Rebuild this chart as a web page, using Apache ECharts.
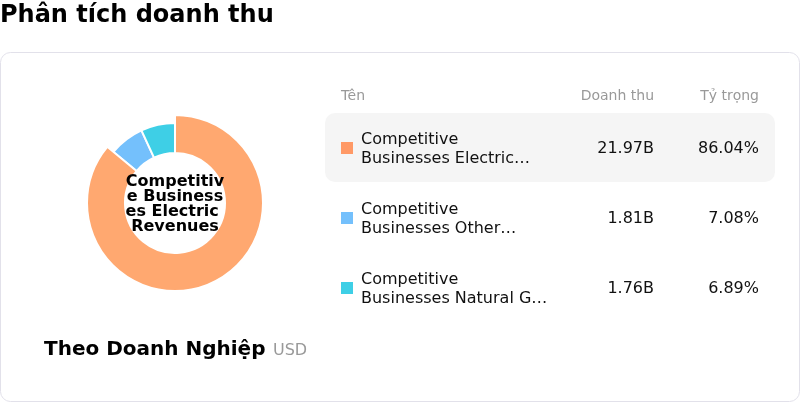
<!DOCTYPE html>
<html>
<head>
<meta charset="utf-8">
<script src="https://cdn.jsdelivr.net/npm/echarts@6/dist/echarts.min.js"></script>
<style>
html,body{margin:0;padding:0;background:#fff;}
#c{width:800px;height:402px;}
</style>
</head>
<body>
<div id="c"></div>
<script>
var titleText = 'Phân tích doanh thu';
var subTitle = 'Theo Doanh Nghiệp';
var unitText = 'USD';
var headers = ['Tên', 'Doanh thu', 'Tỷ trọng'];
var names = ['Competitive Businesses Electric Revenues', 'Competitive Businesses Other Revenues', 'Competitive Businesses Natural Gas Revenues'];
var values = [21.97, 1.81, 1.76];
var valueLabels = ['21.97B', '1.81B', '1.76B'];
var shares = [86.04, 7.08, 6.89];
var colors = ['#FF9966', '#74C0FC', '#3ECFE6'];

var FONT = '"DejaVu Sans", sans-serif';
var ctx = document.createElement('canvas').getContext('2d');
ctx.font = '16px ' + FONT;
function w(s) { return ctx.measureText(s).width; }
function clamp2(text, width) {
  var words = text.split(' ');
  var lines = [], cur = '';
  words.forEach(function (wd) {
    var t = cur ? cur + ' ' + wd : wd;
    if (cur && w(t) > width) { lines.push(cur); cur = wd; } else { cur = t; }
  });
  if (cur) lines.push(cur);
  if (lines.length <= 2) return lines.join('\n');
  var s = lines[1];
  while (s.length && w(s + '…') > width) s = s.slice(0, -1);
  return lines[0] + '\n' + s.replace(/\s+$/, '') + '…';
}

var chart = echarts.init(document.getElementById('c'), null, {renderer: 'canvas'});
var graphics = [
  {type: 'rect', shape: {x: 0.5, y: 52.5, width: 799, height: 349, r: 10}, style: {fill: '#fff', stroke: '#E2E1EA', lineWidth: 1}, z: -10},
  {type: 'text', x: 0, y: 16, style: {text: titleText, font: 'bold 24px ' + FONT, fill: '#000', verticalAlign: 'middle'}},
  {type: 'text', x: 44, y: 350, style: {text: subTitle, font: 'bold 20px ' + FONT, fill: '#000', verticalAlign: 'middle'}},
  {type: 'text', x: 273, y: 351, style: {text: unitText, font: '16px ' + FONT, fill: '#999', verticalAlign: 'middle'}},
  {type: 'text', x: 341, y: 96, style: {text: headers[0], font: '14px ' + FONT, fill: '#999', verticalAlign: 'middle'}},
  {type: 'text', x: 654, y: 96, style: {text: headers[1], font: '14px ' + FONT, fill: '#999', align: 'right', verticalAlign: 'middle'}},
  {type: 'text', x: 759, y: 96, style: {text: headers[2], font: '14px ' + FONT, fill: '#999', align: 'right', verticalAlign: 'middle'}},
  {type: 'rect', shape: {x: 325, y: 113, width: 450, height: 69, r: 10}, style: {fill: '#F5F5F5'}, z: -5},
  {type: 'text', x: 175, y: 204, z: 10, style: {text: names[0], font: 'bold 16px ' + FONT, lineHeight: 15, width: 100, overflow: 'breakAll', fill: '#000', align: 'center', verticalAlign: 'middle'}}
];
for (var k = 0; k < names.length; k++) {
  var cy = 148 + k * 70;
  graphics.push({type: 'rect', shape: {x: 341, y: cy - 6, width: 12, height: 12}, style: {fill: colors[k]}});
  graphics.push({type: 'text', x: 361, y: cy + 1, style: {text: clamp2(names[k], 189), font: '16px ' + FONT, lineHeight: 19, fill: '#111', verticalAlign: 'middle'}});
  graphics.push({type: 'text', x: 654, y: cy + 1, style: {text: valueLabels[k], font: '16px ' + FONT, fill: '#111', align: 'right', verticalAlign: 'middle'}});
  graphics.push({type: 'text', x: 759, y: cy + 1, style: {text: shares[k].toFixed(2) + '%', font: '16px ' + FONT, fill: '#111', align: 'right', verticalAlign: 'middle'}});
}

chart.setOption({
  animation: false,
  color: colors,
  graphic: graphics,
  series: [{
    type: 'pie',
    center: [175, 203],
    radius: [50, 80],
    startAngle: 90,
    clockwise: true,
    avoidLabelOverlap: false,
    itemStyle: {borderColor: '#fff', borderWidth: 2},
    label: {show: false},
    labelLine: {show: false},
    emphasis: {scale: true, scaleSize: 8, label: {show: false}},
    data: names.map(function (n, i) { return {name: n, value: values[i]}; })
  }]
});
chart.dispatchAction({type: 'highlight', seriesIndex: 0, dataIndex: 0});
</script>
</body>
</html>
